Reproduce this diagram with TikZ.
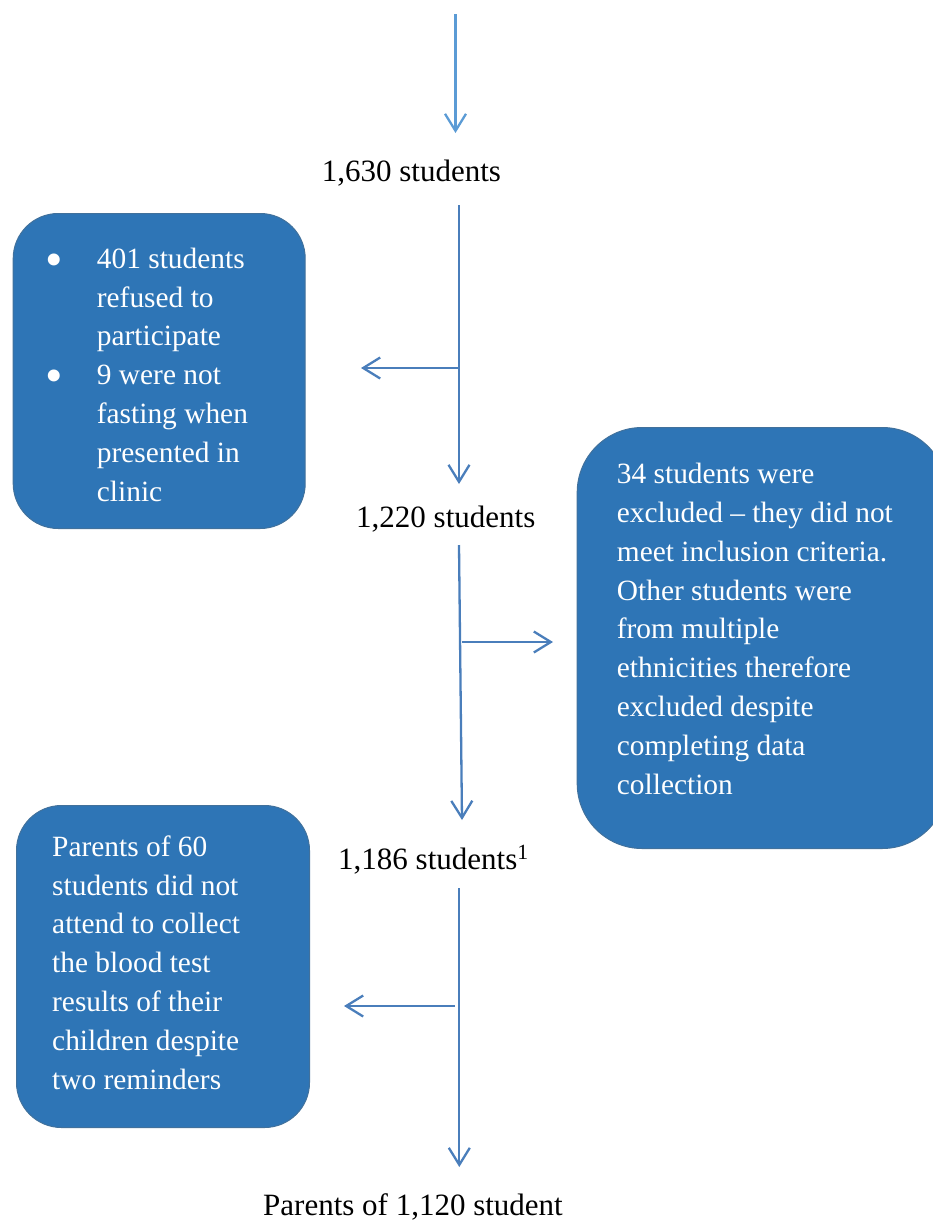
\documentclass[tikz,border=0pt]{standalone}
\usepackage{fontspec}
\setmainfont{Liberation Serif}
\usetikzlibrary{arrows.meta}
\definecolor{boxfill}{HTML}{2E75B6}
\definecolor{boxline}{HTML}{41719C}
\definecolor{arrcol}{HTML}{4A7EBB}
\definecolor{toparr}{HTML}{5B9BD5}
\newcommand{\bigbul}{\llap{\makebox[51pt][l]{\raisebox{-8pt}[0pt][0pt]{\fontsize{50}{0}\selectfont •}}}}
\tikzset{
  arr/.style={draw=arrcol, line width=2.3pt, -{Straight Barb[length=17pt,width=21pt,line width=2.3pt]}},
  bluebox/.style={draw=boxline, line width=1pt, fill=boxfill, rectangle, anchor=north west, inner sep=0pt},
  boxtext/.style={anchor=north west, inner sep=0pt, align=left, text=white, font=\fontsize{29.4}{38.8}\selectfont},
  count/.style={anchor=base west, inner sep=0pt, font=\fontsize{31}{38.8}\selectfont}
}
\begin{document}
\begin{tikzpicture}[x=1pt,y=-1pt]
\useasboundingbox (0,0) rectangle (933,1221);
% boxes
\node[bluebox, rounded corners=45pt, minimum width=292pt, minimum height=315pt] (box1) at (12.7,213) {};
\node[bluebox, rounded corners=65pt, minimum width=370pt, minimum height=421pt] (box2) at (576.7,427) {};
\node[bluebox, rounded corners=45pt, minimum width=293pt, minimum height=322pt] (box3) at (16,805) {};
% box texts
\node[boxtext] (t1) at (96.7,241) {\strut\bigbul 401 students\\refused to\\participate\\\bigbul 9 were not\\fasting when\\presented in\\clinic};
\node[boxtext] (t2) at (616.7,456.3) {\strut 34 students were\\excluded – they did not\\meet inclusion criteria.\\Other students were\\from multiple\\ethnicities therefore\\excluded despite\\completing data\\collection};
\node[boxtext] (t3) at (52,829) {\strut Parents of 60\\students did not\\attend to collect\\the blood test\\results of their\\children despite\\two reminders};
% counts
\node[count] (n1630) at (321.7,181) {1,630 students};
\node[count] (n1220) at (356,527) {1,220 students};
\node[count] (n1186) at (338,869) {1,186 students\textsuperscript{1}};
\node[count] (n1120) at (263,1215) {Parents of 1,120 student};
% connector coordinates
\coordinate (c0) at (455.5,14);
\coordinate (c0e) at (455.5,133);
\coordinate (c1s) at (459,205);
\coordinate (c1b) at (459,368);
\coordinate (c1l) at (361,368);
\coordinate (c1e) at (459,484);
\coordinate (c2s) at (459,545);
\coordinate (c2b) at (461.8,642);
\coordinate (c2r) at (553,642);
\coordinate (c2e) at (462,820);
\coordinate (c3s) at (459.3,888);
\coordinate (c3b) at (455,1006);
\coordinate (c3l) at (344,1006);
\coordinate (c3e) at (459.3,1167);
% arrows
\draw[arr, draw=toparr, -{Straight Barb[length=17pt,width=21pt,line width=2.3pt,color=toparr]}] (c0) -- (c0e);
\draw[arr] (c1s) -- (c1e);
\draw[arr] (c1b) -- (c1l);
\draw[arr] (c2s) -- (c2e);
\draw[arr] (c2b) -- (c2r);
\draw[arr] (c3s) -- (c3e);
\draw[arr] (c3b) -- (c3l);
\end{tikzpicture}
\end{document}
